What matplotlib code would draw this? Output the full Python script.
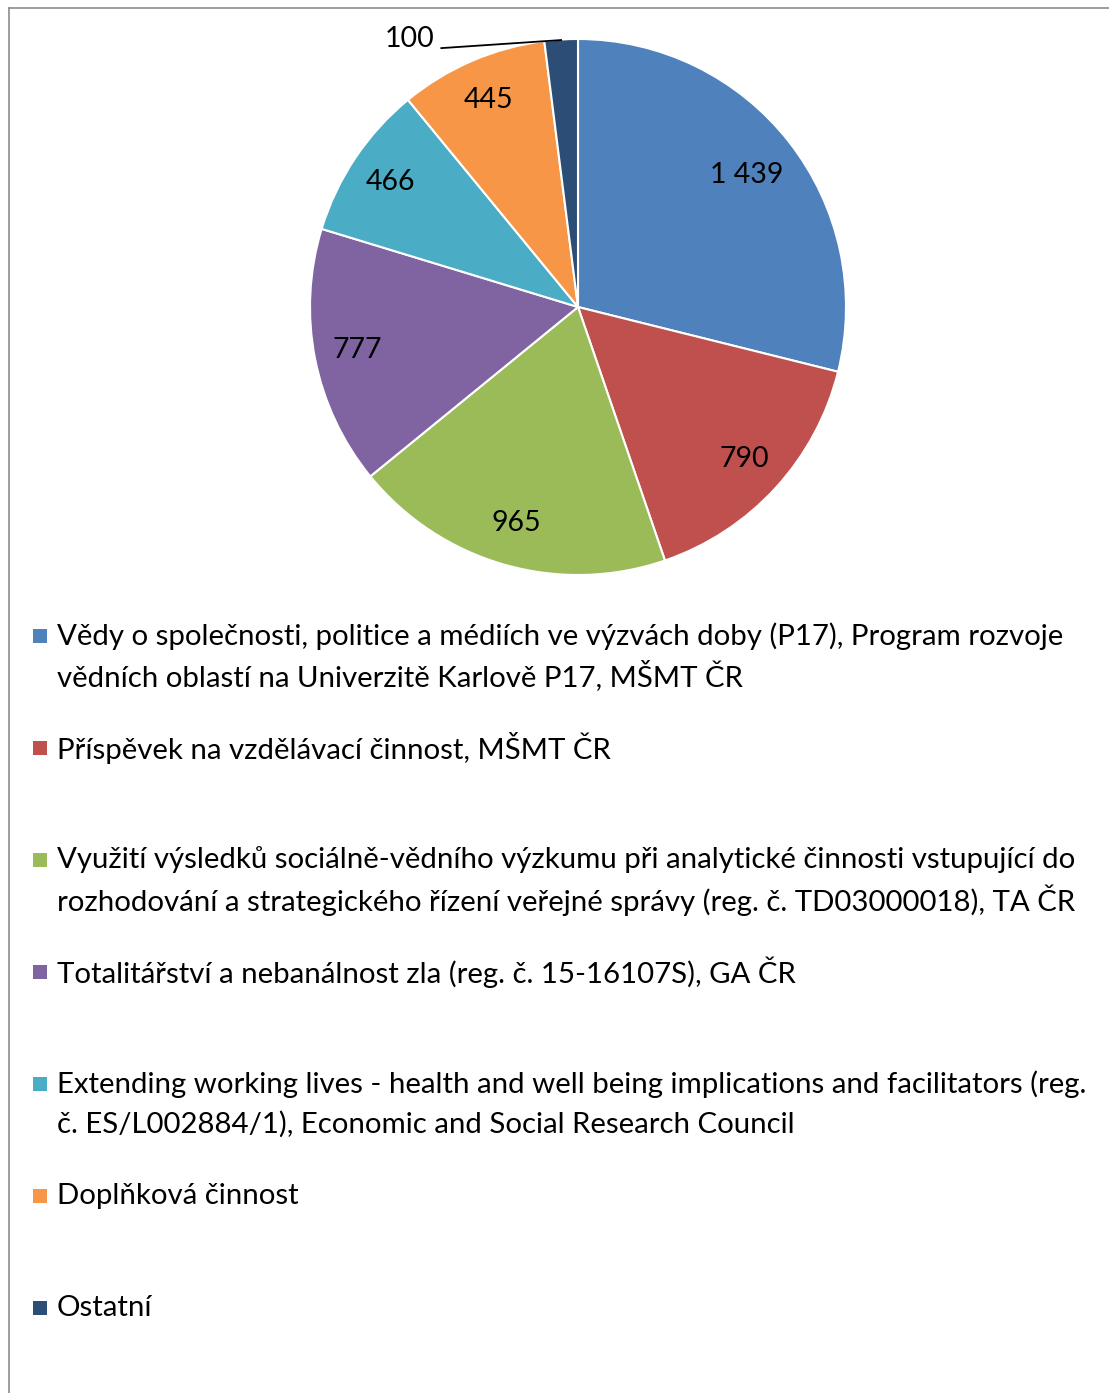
import matplotlib
matplotlib.use("Agg")
import matplotlib.pyplot as plt
from matplotlib.patches import Rectangle
from matplotlib.lines import Line2D
import numpy as np

plt.rcParams['font.family'] = ['Lato', 'DejaVu Sans']

hodnoty = [1439, 790, 965, 777, 466, 445, 100]
popisky = ["1 439", "790", "965", "777", "466", "445", "100"]
barvy = ["#4F81BD", "#C0504D", "#9BBB59", "#8064A2", "#4BACC6", "#F79646", "#2C4D75"]
legenda = [
    "Vědy o společnosti, politice a médiích ve výzvách doby (P17), Program rozvoje\nvědních oblastí na Univerzitě Karlově P17, MŠMT ČR",
    "Příspěvek na vzdělávací činnost, MŠMT ČR",
    "Využití výsledků sociálně-vědního výzkumu při analytické činnosti vstupující do\nrozhodování a strategického řízení veřejné správy (reg. č. TD03000018), TA ČR",
    "Totalitářství a nebanálnost zla (reg. č. 15-16107S), GA ČR",
    "Extending working lives - health and well being implications and facilitators (reg.\nč. ES/L002884/1), Economic and Social Research Council",
    "Doplňková činnost",
    "Ostatní",
]

W, H = 1109, 1393
fig = plt.figure(figsize=(W / 100, H / 100), dpi=100)

# ramecek (jen horni a leva hrana je videt)
fig.add_artist(Line2D([9 / W, 1], [1 - 8 / H, 1 - 8 / H], color="#8c8c8c", lw=1.2))
fig.add_artist(Line2D([9 / W, 9 / W], [0, 1 - 8 / H], color="#8c8c8c", lw=1.2))

cx, cy, r = 578, 307, 268
ax = fig.add_axes([(cx - r) / W, 1 - (cy + r) / H, 2 * r / W, 2 * r / H])
wedges, _ = ax.pie(hodnoty, colors=barvy, startangle=90, counterclock=False,
                   wedgeprops=dict(edgecolor="white", linewidth=1.5))
ax.set_xlim(-1, 1)
ax.set_ylim(-1, 1)
ax.set_aspect("equal")
ax.axis("off")

fs = 20.5
for i, (w, lab) in enumerate(zip(wedges, popisky)):
    ang = np.deg2rad((w.theta1 + w.theta2) / 2)
    if i == len(wedges) - 1:
        # maly vysek - popisek venku s odkazovou carou
        x0, y0 = np.cos(ang), np.sin(ang)
        ax.text(-0.535, 1.0, lab, ha="right", va="center", fontsize=fs, clip_on=False)
        ax.plot([-0.51, x0], [0.966, y0 - 0.002], color="black", lw=1.3, clip_on=False)
    else:
        d = 0.80 if i == 0 else 0.84
        ax.text(np.cos(ang) * d, np.sin(ang) * d, lab, ha="center", va="center", fontsize=fs)

# legenda
fs_leg = 21.2
y_start = 636
krok = 112
radek = 40
for i, (txt, c) in enumerate(zip(legenda, barvy)):
    y = y_start + i * krok
    fig.add_artist(Rectangle((33 / W, 1 - (y + 7) / H), 14 / W, 14 / H, color=c, lw=0))
    for j, line in enumerate(txt.split("\n")):
        fig.text(57 / W, 1 - (y + j * radek) / H, line, ha="left", va="center", fontsize=fs_leg)

fig.savefig("out.png", dpi=100)
